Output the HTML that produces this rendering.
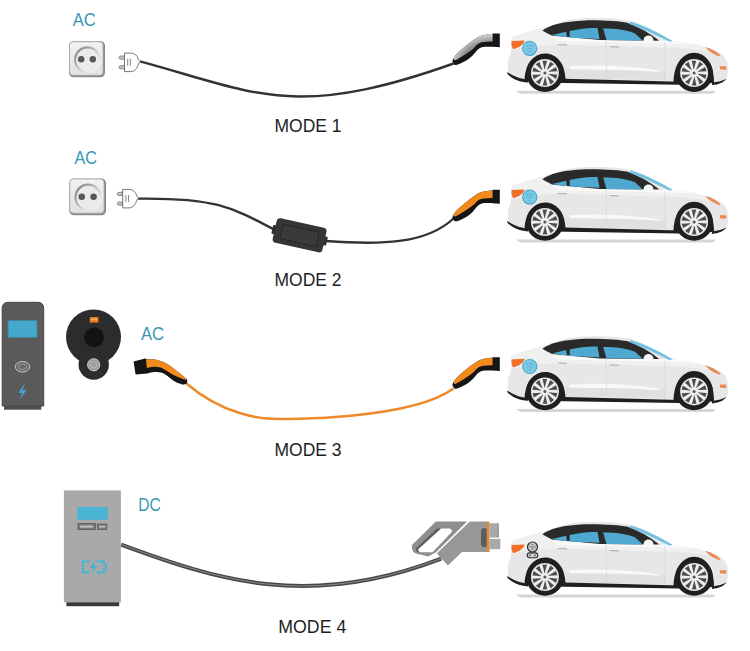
<!DOCTYPE html>
<html><head><meta charset="utf-8">
<style>
html,body{margin:0;padding:0;background:#fff;}
svg{display:block;}
text{font-family:"Liberation Sans",sans-serif;}
</style></head>
<body>
<svg width="750" height="651" viewBox="0 0 750 651">
<defs>
  <radialGradient id="rimg" cx="0.5" cy="0.5" r="0.5">
    <stop offset="0.85" stop-color="#d4d4d4"/>
    <stop offset="1" stop-color="#eeeeee"/>
  </radialGradient>
  <g id="wheel">
    <circle r="18.8" fill="#1f1f1f"/>
    <circle r="14" fill="#e2e2e2"/>
    <circle r="13" fill="#eeeeee"/>
    <g fill="#4d4d4d">
      <path id="gap" d="M-0.07,-4.00 Q0.89,-8.45 2.19,-12.41 L-2.40,-12.37 Q-1.40,-8.38 -0.49,-3.97 Z"/>
      <use href="#gap" transform="rotate(36)"/>
      <use href="#gap" transform="rotate(72)"/>
      <use href="#gap" transform="rotate(108)"/>
      <use href="#gap" transform="rotate(144)"/>
      <use href="#gap" transform="rotate(180)"/>
      <use href="#gap" transform="rotate(216)"/>
      <use href="#gap" transform="rotate(252)"/>
      <use href="#gap" transform="rotate(288)"/>
      <use href="#gap" transform="rotate(324)"/>
    </g>
    <circle r="1.5" fill="#555"/>
  </g>
  <g id="car">
    <!-- shadow -->
    <path d="M516,239.6 L716,239.6 L713,242.6 L520,242.6 Z" fill="#d6d6d6"/>
    <!-- body -->
    <path d="M507.8,221.5 L508,212 C508,209.5 508.4,207.8 509,206.5 C510.5,204 511,202 511,199 L511.8,186 C525,181.5 540,177 552.8,174.3 C563,168.3 578,166.8 598,166.9 C612,167 624,168.3 633,170 C648,175.5 660,183.5 672.5,190 C690,191.8 705,195 716,199.8 C722,202.5 726,206 727.5,211 L728,219.6 C727.8,224 727,226.5 726.2,228 L713.3,233.5 L677,233.5 L527,229 C518,227 511,224.5 507.8,221.5 Z" fill="#e7e7e7"/>
    <!-- upper body lighter band -->
    <path d="M511.8,186 C525,181.5 540,177 552.8,174.3 L560,187.5 L672.5,190 C690,191.8 705,195 716,199.8 L718,202 C700,198.5 680,196.5 660,196.5 L560,193.5 C540,194 525,196 511,199 Z" fill="#f0f0f0"/>
    <path d="M551,186 L672.5,190 C680,190.8 688,191.8 695,193 L560,190.2 Z" fill="#fafafa"/>
    <!-- lower shading -->
    <path d="M566,217.5 C600,217 630,218.5 666,220.5 L666,228.5 L566,227.5 Z" fill="#e0e0e0"/>
    <!-- highlight stripe -->
    <path d="M570,215 C600,213.6 630,214.6 659.2,219.4 L659.2,220.8 C630,218.8 600,218.2 570,218.4 Q568.5,216.6 570,215 Z" fill="#f9f9f9"/>
    <!-- window dark band -->
    <path d="M542.3,179.3 C550,173.6 563,170.2 585,169.3 C605,169 620,170.4 627,171.6 C638,175.5 650,182 659.2,189.6 L600,189 L552,184.5 C548,182.5 545,181 542.3,179.3 Z" fill="#2a2a2a"/>
    <!-- rear quarter window -->
    <path d="M552,184 L566,180.7 L567,186.2 Z" fill="#4fa8cf"/>
    <!-- rear door window -->
    <path d="M569.7,180 C580,177.5 590,177 597.5,177 L599.5,187.8 L569.7,186.6 Z" fill="#4fa8cf"/>
    <!-- front door window -->
    <path d="M603.2,177.5 C615,177.4 625,178.5 635,182.3 L642.7,189.4 L606.4,188.9 Z" fill="#4fa8cf"/>
    <!-- windshield strip -->
    <path d="M630.5,170.6 C645,174.6 659,182 673,190.1 L669.5,190.5 C655.5,183.5 643,177.6 629.5,172.8 Z" fill="#70c0e2"/>
    <!-- mirror -->
    <path d="M643.7,190.3 C643.2,186.5 645.5,184.3 649,184.5 C652.5,185 653.8,188 653.4,190.4 Z" fill="#f6f6f6"/>
    <!-- door seams -->
    <path d="M606.2,189.5 L606.4,226.5 M664.9,190.8 L664.9,229" stroke="#d2d2d2" stroke-width="0.6" fill="none"/>
    <!-- door handles -->
    <path d="M558.3,193.6 L567,193.9 M609.8,195.6 L619.2,195.9" stroke="#a0a0a0" stroke-width="0.9" fill="none"/>
    <!-- rocker -->
    <path d="M527,227.8 L565,227.6 L680,230.6 L680,233.6 L565,231.8 L530,231.2 Z" fill="#1f1f1f"/>
    <!-- rear bumper diffuser -->
    <path d="M507.3,221 C513,225 519,227.5 528,228.6 L528,231.4 C519,230.8 511,227.5 507.3,222.5 Z" fill="#1f1f1f"/>
    <!-- front bumper bottom -->
    <path d="M726.5,227.6 C724,231 719,233.5 712,234 L712,231.5 C718,231 723,229.5 726.5,227.6 Z" fill="#1f1f1f"/>
    <!-- arches -->
    <path d="M524.5,230 C524.5,214 533.5,202.5 545,202.5 C557,202.5 565.5,213 565.5,230 Z" fill="#1f1f1f"/>
    <path d="M673.5,231.5 C673.5,214 682.5,201.7 694,201.7 C706,201.7 714,213 714,232 Z" fill="#1f1f1f"/>
    <use href="#wheel" transform="translate(544.9,222)"/>
    <use href="#wheel" transform="translate(694.1,222)"/>
    <!-- lights -->
    <path d="M511.6,190 L524.7,189.4 C523.5,193 520,196.5 513,197.9 C511.5,195.5 511.2,192.5 511.6,190 Z" fill="#f06e26"/>
    <path d="M705,195.8 C711.5,197.5 717,200.5 720.4,204.2 L719.5,205.3 C714,203.5 708.5,200 705,195.8 Z" fill="#e98a52"/>
    <path d="M719.8,215.2 L726.2,215.2 L726.2,218.6 L720.2,218.4 Z" fill="#ec8a4e"/>
  </g>
  <g id="acport">
    <circle r="7.6" fill="#3f9fc2"/>
    <circle r="6.7" fill="#7bc9e6"/>
    <circle cx="-2.4" cy="-2.4" r="0.9" fill="#55afd3"/>
    <circle cx="0" cy="-2.8" r="0.9" fill="#55afd3"/>
    <circle cx="2.4" cy="-2.4" r="0.9" fill="#55afd3"/>
    <path d="M-3.2,0.3 L3.2,0.3 M-2.2,3 Q0,4.4 2.2,3" stroke="#5cb3d6" stroke-width="0.9" fill="none"/>
  </g>
  <linearGradient id="sock" x1="0" y1="0" x2="1" y2="1">
    <stop offset="0" stop-color="#fafafa"/>
    <stop offset="1" stop-color="#bdbdbd"/>
  </linearGradient>
  <radialGradient id="sockin" cx="0.5" cy="0.4" r="0.6">
    <stop offset="0" stop-color="#f6f6f6"/>
    <stop offset="1" stop-color="#dcdcdc"/>
  </radialGradient>
  <g id="socket">
    <rect x="0" y="0" width="36" height="36" rx="4.5" fill="#8a8a8a"/>
    <rect x="0.3" y="0.3" width="34" height="34" rx="4" fill="#b8b8b8"/>
    <rect x="1" y="1" width="32.5" height="32.5" rx="3.5" fill="url(#sockface)"/>
    <circle cx="18.3" cy="18.3" r="13.3" fill="url(#ringg)"/>
    <circle cx="18.6" cy="18.6" r="11.4" fill="#ebebeb"/>
    <circle cx="12.2" cy="18" r="3.2" fill="#575757"/>
    <circle cx="23.8" cy="18" r="3.2" fill="#575757"/>
  </g>
  <linearGradient id="sockface" x1="0" y1="0" x2="0" y2="1">
    <stop offset="0" stop-color="#f2f2f2"/>
    <stop offset="1" stop-color="#e2e2e2"/>
  </linearGradient>
  <linearGradient id="ringg" x1="0.15" y1="0.15" x2="0.85" y2="0.85">
    <stop offset="0" stop-color="#8e8e8e"/>
    <stop offset="0.5" stop-color="#c4c4c4"/>
    <stop offset="1" stop-color="#f8f8f8"/>
  </linearGradient>
  <g id="plug">
    <path d="M5.2,3 L1.4,3 Q-0.2,3 -0.2,4.6 Q-0.2,6.2 1.4,6.2 L5.2,6.2 Z M5.2,12.7 L1.4,12.7 Q-0.2,12.7 -0.2,14.3 Q-0.2,15.9 1.4,15.9 L5.2,15.9 Z" fill="#c4c4c4" stroke="#6a6a6a" stroke-width="0.7"/>
    <path d="M5.2,0.1 L11.5,0.1 C15.5,0.1 18.3,3 18.9,5.6 C19.3,7.2 20,8 21,8.7 C20,9.4 19.3,10.3 18.9,11.9 C18.3,14.6 15.5,18.6 11.5,18.6 L5.2,18.6 Z" fill="#fff" stroke="#666" stroke-width="0.9"/>
    <path d="M8.4,5.7 L8.4,12.7 M11.1,5.7 L11.1,12.7" stroke="#777" stroke-width="0.9"/>
  </g>
  <linearGradient id="hgray" x1="0" y1="0" x2="0" y2="1">
    <stop offset="0" stop-color="#d8d8d8"/>
    <stop offset="1" stop-color="#8a8a8a"/>
  </linearGradient>
  <g id="handleBlack">
    <path d="M499.8,33.4 L499.8,47.3 L492.60,46.80 C491.02,46.82 485.55,46.47 483.10,46.90 C480.65,47.33 479.65,47.97 477.90,49.40 C476.15,50.83 474.47,53.68 472.60,55.50 C470.73,57.32 468.93,58.88 466.70,60.30 C464.47,61.72 461.23,63.27 459.20,64.00 C457.17,64.73 455.63,65.17 454.50,64.70 C453.37,64.23 452.75,61.78 452.40,61.20 C452.67,60.58 452.87,59.10 454.00,57.50 C455.13,55.90 457.08,53.63 459.20,51.60 C461.32,49.57 464.23,47.27 466.70,45.30 C469.17,43.33 471.52,41.40 474.00,39.80 C476.48,38.20 478.50,36.70 481.60,35.70 C484.70,34.70 490.77,34.12 492.60,33.80 L492.6,33.4 Z" fill="#151515"/>
  </g>
  <radialGradient id="hgrad" gradientUnits="userSpaceOnUse" cx="490" cy="75" r="41">
    <stop offset="0.8" stop-color="#8c8c8c"/>
    <stop offset="1" stop-color="#d6d6d6"/>
  </radialGradient>
  <g id="ctrlbox">
    <rect x="-28" y="-4.5" width="4.5" height="9" rx="1" fill="#2e2e2e"/>
    <rect x="23.5" y="-4.5" width="4.5" height="9" rx="1" fill="#2e2e2e"/>
    <rect x="-25.5" y="-12.5" width="51" height="25" rx="3.5" fill="#353535"/>
    <rect x="-18.5" y="-7.2" width="37" height="14.6" rx="2.5" fill="#3a3a3a" stroke="#272727" stroke-width="1"/>
  </g>
</defs>

<!-- Labels -->
<text x="72.7" y="26" font-size="18" fill="#3a97b3" textLength="23" lengthAdjust="spacingAndGlyphs">AC</text>
<text x="74.4" y="163.7" font-size="18" fill="#3a97b3" textLength="22.5" lengthAdjust="spacingAndGlyphs">AC</text>
<text x="140.9" y="340.3" font-size="18" fill="#3a97b3" textLength="23.2" lengthAdjust="spacingAndGlyphs">AC</text>
<text x="138.3" y="510.8" font-size="18" fill="#3a97b3" textLength="22.5" lengthAdjust="spacingAndGlyphs">DC</text>
<text x="274.5" y="131.6" font-size="18.6" fill="#1e1e1e" textLength="67" lengthAdjust="spacingAndGlyphs">MODE 1</text>
<text x="274.5" y="285.8" font-size="18.6" fill="#1e1e1e" textLength="67" lengthAdjust="spacingAndGlyphs">MODE 2</text>
<text x="274.5" y="456" font-size="18.6" fill="#1e1e1e" textLength="67" lengthAdjust="spacingAndGlyphs">MODE 3</text>
<text x="278.3" y="632.8" font-size="18.6" fill="#1e1e1e" textLength="68" lengthAdjust="spacingAndGlyphs">MODE 4</text>

<!-- MODE 1 -->
<use href="#socket" transform="translate(69,41.3)"/>
<path d="M140,61.4 C255.8,92.7 293.5,120.5 453.6,63.5" stroke="#333" stroke-width="2.4" fill="none"/>
<use href="#plug" transform="translate(119.3,53)"/>
<!-- connector 1 -->
<use href="#handleBlack"/>
<path d="M492.60,33.80 C490.77,34.12 484.70,34.70 481.60,35.70 C478.50,36.70 476.48,38.20 474.00,39.80 C471.52,41.40 469.17,43.33 466.70,45.30 C464.23,47.27 461.32,49.57 459.20,51.60 C457.08,53.63 454.87,56.52 454.00,57.50 C453.3,58.8 453.6,60 455.5,60.2 C456.73,59.48 460.05,57.73 462.90,55.90 C465.75,54.07 469.73,51.38 472.60,49.20 C475.47,47.02 476.77,44.08 480.10,42.80 C483.43,41.52 490.52,41.72 492.60,41.50 Z" fill="url(#hgrad)"/>
<use href="#car" transform="translate(0,-148.9)"/>
<use href="#acport" transform="translate(529.7,48.3)"/>

<!-- MODE 2 -->
<use href="#socket" transform="translate(69.3,178.5) scale(1.02)"/>
<path d="M138,198.6 C213.1,197.7 230,206 275,230" stroke="#333" stroke-width="2.3" fill="none"/>
<path d="M326,241 C379.1,244.9 426.2,244.7 454,218" stroke="#333" stroke-width="2.3" fill="none"/>
<use href="#plug" transform="translate(117.5,189.3)"/>
<!-- connector 2 -->
<g transform="translate(0,156.4)">
<use href="#handleBlack"/>
<path d="M492.60,33.80 C490.77,34.12 484.70,34.70 481.60,35.70 C478.50,36.70 476.48,38.20 474.00,39.80 C471.52,41.40 469.17,43.33 466.70,45.30 C464.23,47.27 461.32,49.57 459.20,51.60 C457.08,53.63 454.87,56.52 454.00,57.50 C453.3,58.8 453.6,60 455.5,60.2 C456.73,59.48 460.05,57.73 462.90,55.90 C465.75,54.07 469.73,51.38 472.60,49.20 C475.47,47.02 476.77,44.08 480.10,42.80 C483.43,41.52 490.52,41.72 492.60,41.50 Z" fill="#f28a1e"/>
</g>
<use href="#ctrlbox" transform="translate(299.6,235.3) rotate(12.5)"/>
<use href="#car"/>
<use href="#acport" transform="translate(529.8,197.1)"/>

<!-- MODE 3 -->
<path d="M186.4,383.5 C224,415.6 262,418.5 272.5,418.8 C283.5,419.2 410,420.2 453.5,388.5" stroke="#ef8a2a" stroke-width="2.6" fill="none"/>
<!-- connector 3 -->
<g transform="translate(0,323.8)">
<use href="#handleBlack"/>
<path d="M492.60,33.80 C490.77,34.12 484.70,34.70 481.60,35.70 C478.50,36.70 476.48,38.20 474.00,39.80 C471.52,41.40 469.17,43.33 466.70,45.30 C464.23,47.27 461.32,49.57 459.20,51.60 C457.08,53.63 454.87,56.52 454.00,57.50 C453.3,58.8 453.6,60 455.5,60.2 C456.73,59.48 460.05,57.73 462.90,55.90 C465.75,54.07 469.73,51.38 472.60,49.20 C475.47,47.02 476.77,44.08 480.10,42.80 C483.43,41.52 490.52,41.72 492.60,41.50 Z" fill="#f28a1e"/>
</g>
<!-- left connector -->
<path d="M133.6,361.6 L145.2,358.4 L147,359 L147,373.6 L135.6,374.4 Z" fill="#151515"/>
<path d="M146.00,359.20 C147.33,359.27 151.33,359.20 154.00,359.60 C156.67,360.00 159.60,360.73 162.00,361.60 C164.40,362.47 166.27,363.47 168.40,364.80 C170.53,366.13 172.53,367.87 174.80,369.60 C177.07,371.33 180.13,373.73 182.00,375.20 C183.87,376.67 185.33,377.87 186.00,378.40 C187.6,379.6 188,382.5 186,384 C185.33,384.07 183.87,384.80 182.00,384.40 C180.13,384.00 177.07,382.87 174.80,381.60 C172.53,380.33 170.53,378.27 168.40,376.80 C166.27,375.33 164.40,373.60 162.00,372.80 C159.60,372.00 156.53,371.87 154.00,372.00 C151.47,372.13 148.00,373.33 146.80,373.60 Z" fill="#151515"/>
<path d="M146.00,359.20 C147.33,359.27 151.33,359.20 154.00,359.60 C156.67,360.00 159.60,360.73 162.00,361.60 C164.40,362.47 166.27,363.47 168.40,364.80 C170.53,366.13 172.53,367.87 174.80,369.60 C177.07,371.33 180.13,373.73 182.00,375.20 C183.87,376.67 185.33,377.87 186.00,378.40 C186.8,379 186,380 184.4,379.6 C182.67,378.87 177.07,376.73 174.00,375.20 C170.93,373.67 168.27,371.67 166.00,370.40 C163.73,369.13 162.40,368.20 160.40,367.60 C158.40,367.00 156.27,366.73 154.00,366.80 C151.73,366.87 148.00,367.80 146.80,368.00 Z" fill="#f28a1e"/>
<!-- station -->
<rect x="4" y="405" width="37.3" height="4.7" fill="#4e4e4e"/>
<path d="M2.2,406 L2.2,308.5 Q2.2,302.3 8.4,302.3 L37.5,302.3 Q43.7,302.3 43.7,308.5 L43.7,406 Z" fill="#5a5a5a" stroke="#464646" stroke-width="1"/>
<rect x="8.1" y="320.7" width="28.8" height="16.6" fill="#45a9cb" stroke="#3d8aa5" stroke-width="0.8"/>
<ellipse cx="22.5" cy="366.8" rx="7.2" ry="5.3" fill="#6a6a6a" stroke="#c8c8c8" stroke-width="1"/>
<ellipse cx="22.5" cy="366.8" rx="4" ry="3" fill="none" stroke="#a8a8a8" stroke-width="0.8"/>
<path d="M24.5,383.5 L18.5,393 L22.5,393 L19.5,400 L26.5,390 L22.5,390 L25,383.5 Z" fill="#3ea6cf"/>
<!-- wallbox -->
<circle cx="93.5" cy="337" r="27.5" fill="#2c2c2c"/>
<circle cx="93.7" cy="364.5" r="15.2" fill="#2c2c2c"/>
<circle cx="94.1" cy="337.3" r="9.9" fill="#121212"/>
<path d="M89.8,317 L98.4,317 L98.4,322.4 L92,322.4 L90.6,323.6 L90.6,322.4 L89.8,322.4 Z" fill="#f07818"/>
<rect x="91" y="318.6" width="6" height="1.6" fill="#f8b070"/>
<circle cx="93.7" cy="364.8" r="6.1" fill="#9d9d9d" stroke="#cfcfcf" stroke-width="1"/>
<circle cx="93.7" cy="364.8" r="3.2" fill="none" stroke="#c0c0c0" stroke-width="0.8"/>
<use href="#car" transform="translate(0,169.4)"/>
<use href="#acport" transform="translate(529.8,366.5)"/>

<!-- MODE 4 -->
<path d="M121.2,544.6 C219.7,581.2 310,609.2 441.2,558.6" stroke="#474747" stroke-width="4" fill="none"/>
<!-- DC station -->
<rect x="63.9" y="490.4" width="57" height="112" fill="#a9a9a9"/>
<rect x="66.4" y="602.3" width="52.8" height="3.9" fill="#3a3a3a"/>
<rect x="77.4" y="507" width="30.4" height="12.8" fill="#4ab4d4"/>
<rect x="78" y="523.6" width="17.4" height="6" fill="#7a7a7a" stroke="#555" stroke-width="0.8"/>
<rect x="80" y="525.5" width="13" height="2.2" fill="#bdbdbd"/>
<rect x="97.5" y="524" width="9.3" height="5.5" fill="#7a7a7a" stroke="#555" stroke-width="0.7"/>
<rect x="99" y="525.8" width="6.3" height="1.8" fill="#bdbdbd"/>
<path d="M90,561.5 L83,561.5 L83,572.5 L90,572.5 M96.5,561.5 L104,561.5 L104,564.5 L106,564.5 L106,569.5 L104,569.5 L104,572.5 L96.5,572.5" fill="none" stroke="#4ab4d4" stroke-width="2"/>
<path d="M95.5,560 L89.5,568 L93,568 L91,574 L97.5,566 L94,566 Z" fill="#4ab4d4"/>
<!-- DC connector -->
<path d="M121.2,544.6 C219.7,581.2 310,609.2 441.2,558.6" stroke="#888" stroke-width="1.1" fill="none"/>
<path d="M435.8,521.5 L467.1,521.5 L436,552.3 L428.3,556.5 L416,553.5 Q412.3,552 412,548 L412,544.9 Z" fill="#8e8e8e"/>
<path d="M441,528.5 L449.5,528.5 Q452.8,529.5 451.5,532.2 L432.5,552.3 L420.5,552.3 Q417.3,551.5 418.3,549 Z" fill="#fff"/>
<path d="M437,528.6 L441,528.5 L418.3,549 Q417.3,551.5 420.5,552.3 L418.5,552.3 Q415.5,551.5 416,548.5 Z" fill="#5e5e5e"/>
<path d="M469.9,521.6 L488,521.6 L488,552 L461.9,552 L447.9,565.4 L436.7,553.3 Z" fill="#979797"/>
<path d="M468.3,521.3 L436,553.6" stroke="#f4f4f4" stroke-width="1.1"/>
<path d="M483,528.3 L486.8,528.3 L486.8,547 L483,547 Q481,546.5 481,544 L481,531.5 Q481,528.8 483,528.3 Z" fill="#5c5c5c"/>
<rect x="486.8" y="521.6" width="2.8" height="30.4" fill="#e2883a"/>
<rect x="489.6" y="523.3" width="9" height="14.2" fill="#a9a9a9"/>
<rect x="497.6" y="523.3" width="1" height="14.2" fill="#8a8a8a"/>
<rect x="489.6" y="538.9" width="10.7" height="10.3" fill="#a9a9a9"/>
<use href="#car" transform="translate(0,355)"/>
<!-- CCS port -->
<circle cx="532.5" cy="547" r="5" fill="#cfcfcf" stroke="#2e2e2e" stroke-width="1.2"/>
<circle cx="532.5" cy="547" r="3.2" fill="#9a9a9a"/>
<circle cx="530.9" cy="545.6" r="0.75" fill="#eee"/><circle cx="534.1" cy="545.6" r="0.75" fill="#eee"/><circle cx="530.9" cy="548.4" r="0.75" fill="#eee"/><circle cx="534.1" cy="548.4" r="0.75" fill="#eee"/>
<rect x="527.2" y="552.9" width="10.6" height="4.8" rx="2.4" fill="#cfcfcf" stroke="#2e2e2e" stroke-width="1.1"/>
<circle cx="530" cy="555.3" r="1.1" fill="#777"/><circle cx="535" cy="555.3" r="1.1" fill="#777"/>
</svg>
</body></html>
